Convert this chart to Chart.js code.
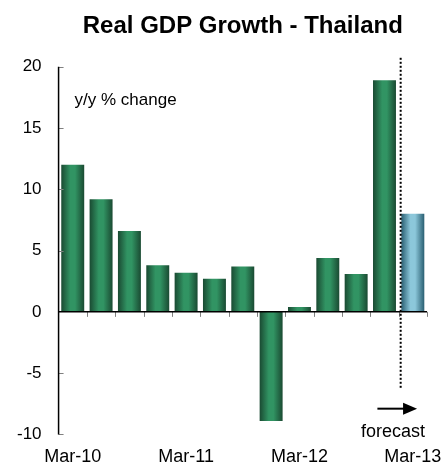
<!DOCTYPE html>
<html>
<head>
<meta charset="utf-8">
<script src="https://cdn.jsdelivr.net/npm/chart.js@4/dist/chart.umd.min.js"></script>
<style>
  html, body { margin: 0; padding: 0; background: #ffffff; }
  #wrap { width: 445px; height: 468px; }
</style>
</head>
<body>
<div id="wrap"><canvas id="c" width="445" height="468"></canvas></div>
<script>
// ---- data ----
const quarters = ['Mar-10','Jun-10','Sep-10','Dec-10','Mar-11','Jun-11','Sep-11','Dec-11','Mar-12','Jun-12','Sep-12','Dec-12','Mar-13'];
const growth = [12.0, 9.2, 6.6, 3.8, 3.2, 2.7, 3.7, -8.9, 0.4, 4.4, 3.1, 18.9, 8.0];
const forecastFlags = [false, false, false, false, false, false, false, false, false, false, false, false, true];
const shownTickLabels = ['Mar-10', 'Mar-11', 'Mar-12', 'Mar-13'];
const yMin = -10, yMax = 20, yStep = 5;
const titleText = 'Real GDP Growth - Thailand';
const unitText = 'y/y % change';
const forecastText = 'forecast';

const FONT = '"Liberation Sans", Arial, Helvetica, sans-serif';

function barGradient(ctx) {
  const chart = ctx.chart;
  const forecast = forecastFlags[ctx.dataIndex];
  const xs = chart.scales && chart.scales.x;
  if (!chart.chartArea || !xs) return forecast ? '#7fbcd0' : '#2a8055';
  const cx = xs.getPixelForValue(ctx.dataIndex);
  const w = (xs.width / quarters.length) * 0.81;
  const g = chart.ctx.createLinearGradient(cx - w / 2, 0, cx + w / 2, 0);
  if (forecast) {
    g.addColorStop(0, '#2a5f72');
    g.addColorStop(0.4, '#8cc7da');
    g.addColorStop(0.6, '#8cc7da');
    g.addColorStop(1, '#2a5f72');
  } else {
    g.addColorStop(0, '#1a4a32');
    g.addColorStop(0.4, '#319463');
    g.addColorStop(0.6, '#319463');
    g.addColorStop(1, '#1a4a32');
  }
  return g;
}

const decor = {
  id: 'decor',
  afterDatasetsDraw(chart) {
    const { ctx, chartArea: a, scales: { x, y } } = chart;
    const n = quarters.length;
    const cw = x.width / n;
    ctx.save();
    // y-axis inner ticks
    ctx.strokeStyle = '#808080';
    ctx.lineWidth = 1;
    for (let v = yMin; v <= yMax; v += yStep) {
      if (v === 0) continue;
      const py = Math.round(y.getPixelForValue(v)) + 0.5;
      ctx.beginPath();
      ctx.moveTo(a.left, py);
      ctx.lineTo(a.left + 5, py);
      ctx.stroke();
    }
    // x ticks below zero line at category boundaries
    const zy = y.getPixelForValue(0);
    for (let i = 1; i <= n; i++) {
      const px = Math.round(a.left + i * cw) + 0.5;
      ctx.beginPath();
      ctx.moveTo(px, zy);
      ctx.lineTo(px, zy + 5);
      ctx.stroke();
    }
    // axis lines
    ctx.strokeStyle = '#000000';
    ctx.lineWidth = 1.5;
    ctx.beginPath();
    ctx.moveTo(a.left, a.top);
    ctx.lineTo(a.left, a.bottom);
    ctx.stroke();
    ctx.beginPath();
    ctx.moveTo(a.left, zy);
    ctx.lineTo(a.right, zy);
    ctx.stroke();
    // dotted forecast separator
    const fIdx = forecastFlags.indexOf(true);
    const sx = a.left + fIdx * cw + 2;
    ctx.lineWidth = 2;
    ctx.setLineDash([2, 2]);
    ctx.beginPath();
    ctx.moveTo(sx, a.top - 9);
    ctx.lineTo(sx, y.getPixelForValue(-6.2));
    ctx.stroke();
    ctx.setLineDash([]);
    // arrow
    const ay = y.getPixelForValue(-7.9);
    const ax0 = a.left + (fIdx - 0.75) * cw;
    const ax1 = a.left + (fIdx + 0.65) * cw;
    ctx.lineWidth = 2;
    ctx.beginPath();
    ctx.moveTo(ax0, ay);
    ctx.lineTo(ax1 - 10, ay);
    ctx.stroke();
    ctx.fillStyle = '#000';
    ctx.beginPath();
    ctx.moveTo(ax1 - 14, ay - 6);
    ctx.lineTo(ax1, ay);
    ctx.lineTo(ax1 - 14, ay + 6);
    ctx.closePath();
    ctx.fill();
    // texts
    ctx.font = '18px ' + FONT;
    ctx.textAlign = 'center';
    ctx.textBaseline = 'middle';
    ctx.fillText(forecastText, a.left + (fIdx - 0.2) * cw, y.getPixelForValue(-9.8));
    ctx.font = '17px ' + FONT;
    ctx.textAlign = 'left';
    ctx.fillText(unitText, a.left + 16, y.getPixelForValue(17.3));
    ctx.restore();
  }
};

new Chart(document.getElementById('c'), {
  type: 'bar',
  data: {
    labels: quarters,
    datasets: [{
      data: growth,
      backgroundColor: barGradient,
      borderWidth: 0,
      barPercentage: 0.81,
      categoryPercentage: 1.0
    }]
  },
  options: {
    responsive: false,
    devicePixelRatio: 1,
    animation: false,
    layout: { padding: { left: 0, right: 18, top: 0, bottom: 0 } },
    plugins: {
      legend: { display: false },
      tooltip: { enabled: false },
      title: {
        display: true,
        text: titleText,
        fullSize: false,
        color: '#000',
        font: { family: FONT, size: 24, weight: 'bold' },
        padding: { top: 12, bottom: 26 }
      }
    },
    scales: {
      x: {
        grid: { display: false, drawTicks: true, tickLength: 12 },
        border: { display: false },
        ticks: {
          autoSkip: false,
          maxRotation: 0,
          padding: 0,
          color: '#000',
          font: { family: FONT, size: 18 },
          callback: function (v, i) {
            const lab = quarters[i];
            return shownTickLabels.includes(lab) ? lab : '';
          }
        }
      },
      y: {
        min: yMin,
        max: yMax,
        grid: { display: false, drawTicks: false },
        border: { display: false },
        ticks: {
          stepSize: yStep,
          padding: 17,
          color: '#000',
          font: { family: FONT, size: 17 }
        }
      }
    }
  },
  plugins: [decor]
});
</script>
</body>
</html>
